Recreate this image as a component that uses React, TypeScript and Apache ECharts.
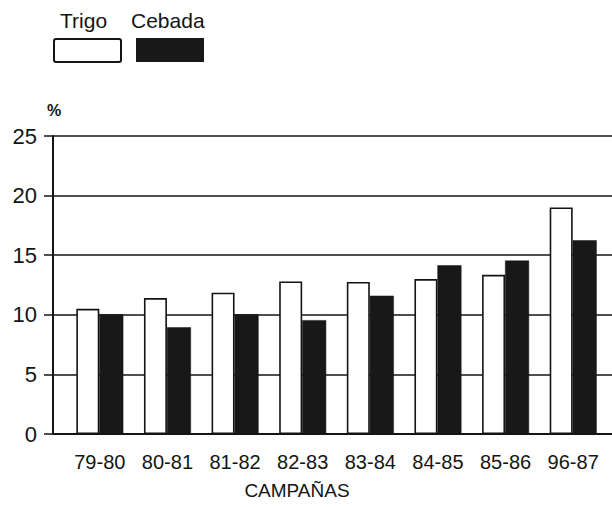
import React, { useEffect, useRef } from "react";
import * as echarts from "echarts";

const categories = ["79-80", "80-81", "81-82", "82-83", "83-84", "84-85", "85-86", "96-87"];
const trigo = [10.5, 11.4, 11.85, 12.8, 12.75, 13.0, 13.35, 19.0];
const cebada = [10.05, 8.95, 10.05, 9.55, 11.6, 14.15, 14.55, 16.25];
const yTicks = [0, 5, 10, 15, 20, 25];

const FONT = "Liberation Sans, Arial, Helvetica, sans-serif";
const INK = "#141414";

export default function App() {
  const ref = useRef<HTMLDivElement>(null);
  useEffect(() => {
    if (!ref.current) return;
    const chart = echarts.init(ref.current, undefined, { renderer: "svg" });
    const top = 136;
    const bottom = 73;
    chart.setOption({
      animation: false,
      backgroundColor: "#ffffff",
      textStyle: { fontFamily: FONT, color: INK },
      grid: [
        { left: 53, right: 0, top, bottom },
        { left: 66, right: 5, top, bottom },
      ],
      xAxis: [
        {
          gridIndex: 0,
          type: "value",
          min: 0,
          max: 1,
          axisLine: { show: true, onZero: false, lineStyle: { color: INK, width: 2 } },
          axisTick: { show: false },
          axisLabel: { show: false },
          splitLine: { show: false },
        },
        {
          gridIndex: 1,
          type: "category",
          data: categories,
          axisLine: { show: false },
          axisTick: { show: false },
          axisLabel: { fontSize: 20, color: INK, margin: 18, fontFamily: FONT },
        },
      ],
      yAxis: [
        {
          gridIndex: 0,
          type: "value",
          min: yTicks[0],
          max: yTicks[yTicks.length - 1],
          interval: 5,
          axisLine: { show: true, lineStyle: { color: INK, width: 2 } },
          axisTick: { show: true, length: 9, lineStyle: { color: INK, width: 1.5 } },
          axisLabel: { fontSize: 22, color: INK, margin: 16, fontFamily: FONT },
          splitLine: { show: true, lineStyle: { color: INK, width: 1.5 } },
        },
        {
          gridIndex: 1,
          type: "value",
          min: 0,
          max: 25,
          show: false,
        },
      ],
      series: [
        {
          name: "Trigo",
          type: "bar",
          xAxisIndex: 1,
          yAxisIndex: 1,
          data: trigo,
          barWidth: 23,
          barGap: "0%",
          itemStyle: { color: "#ffffff", borderColor: INK, borderWidth: 1.6 },
        },
        {
          name: "Cebada",
          type: "bar",
          xAxisIndex: 1,
          yAxisIndex: 1,
          data: cebada,
          barWidth: 24,
          barGap: "0%",
          itemStyle: { color: "#181818", borderColor: INK, borderWidth: 0.5 },
        },
      ],
      graphic: [
        {
          type: "text",
          left: 60,
          top: 10,
          style: { text: "Trigo", font: `21px ${FONT}`, fill: INK },
        },
        {
          type: "text",
          left: 131,
          top: 10,
          style: { text: "Cebada", font: `21px ${FONT}`, fill: INK },
        },
        {
          type: "rect",
          shape: { x: 54, y: 39, width: 67, height: 23, r: 2 },
          style: { fill: "#ffffff", stroke: INK, lineWidth: 2 },
        },
        {
          type: "rect",
          shape: { x: 136, y: 38, width: 68, height: 24 },
          style: { fill: "#181818" },
        },
        {
          type: "text",
          left: 47,
          top: 102,
          style: { text: "%", font: `bold 16px ${FONT}`, fill: INK },
        },
        {
          type: "text",
          x: 297,
          y: 490,
          style: {
            text: "CAMPAÑAS",
            font: `19px ${FONT}`,
            fill: INK,
            align: "center",
            verticalAlign: "middle",
          },
        },
      ],
    });
    return () => chart.dispose();
  }, []);
  return (
    <div
      ref={ref}
      style={{ position: "absolute", left: 0, top: 0, width: 612, height: 507 }}
    />
  );
}
